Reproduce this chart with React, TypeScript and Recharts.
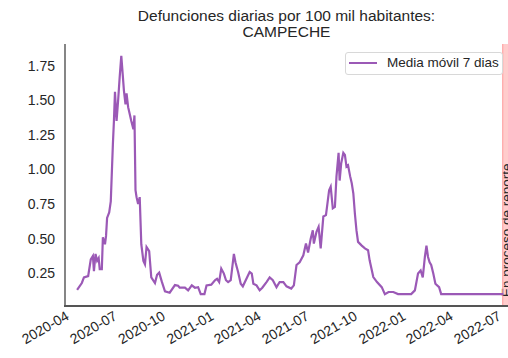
import React from "react";
import {
  LineChart,
  Line,
  XAxis,
  YAxis,
  ReferenceArea,
  ReferenceLine,
} from "recharts";

// 7-day moving average, deaths per 100k, Campeche
const dates = [
  "2020-04-24", "2020-05-03", "2020-05-07", "2020-05-15", "2020-05-20", "2020-05-24",
  "2020-05-26", "2020-05-29", "2020-06-01", "2020-06-04", "2020-06-06", "2020-06-10",
  "2020-06-12", "2020-06-16", "2020-06-18", "2020-06-20", "2020-06-24", "2020-06-27",
  "2020-07-01", "2020-07-03", "2020-07-05", "2020-07-08", "2020-07-11", "2020-07-14",
  "2020-07-17", "2020-07-20", "2020-07-22", "2020-07-25", "2020-07-27", "2020-07-30",
  "2020-08-02", "2020-08-05", "2020-08-09", "2020-08-11", "2020-08-13", "2020-08-15",
  "2020-08-18", "2020-08-21", "2020-08-24", "2020-08-28", "2020-08-31", "2020-09-03",
  "2020-09-08", "2020-09-12", "2020-09-19", "2020-09-23", "2020-09-27", "2020-10-02",
  "2020-10-08", "2020-10-17", "2020-10-27", "2020-11-02", "2020-11-05", "2020-11-15",
  "2020-11-21", "2020-11-28", "2020-12-04", "2020-12-10", "2020-12-15", "2020-12-22",
  "2020-12-26", "2021-01-04", "2021-01-11", "2021-01-15", "2021-01-19", "2021-01-23",
  "2021-01-28", "2021-02-01", "2021-02-05", "2021-02-10", "2021-02-16", "2021-02-19",
  "2021-02-24", "2021-03-01", "2021-03-05", "2021-03-13", "2021-03-18", "2021-03-22",
  "2021-03-25", "2021-03-31", "2021-04-06", "2021-04-11", "2021-04-19", "2021-04-25",
  "2021-05-01", "2021-05-08", "2021-05-14", "2021-05-21", "2021-05-27", "2021-06-05",
  "2021-06-10", "2021-06-15", "2021-06-21", "2021-06-28", "2021-07-03", "2021-07-07",
  "2021-07-12", "2021-07-16", "2021-07-18", "2021-07-23", "2021-07-27", "2021-07-31",
  "2021-08-05", "2021-08-10", "2021-08-12", "2021-08-16", "2021-08-19", "2021-08-23",
  "2021-08-27", "2021-08-30", "2021-09-03", "2021-09-05", "2021-09-08", "2021-09-12",
  "2021-09-15", "2021-09-18", "2021-09-21", "2021-09-25", "2021-09-28", "2021-10-01",
  "2021-10-04", "2021-10-07", "2021-10-10", "2021-10-17", "2021-10-23", "2021-10-29",
  "2021-11-01", "2021-11-08", "2021-11-15", "2021-11-24", "2021-11-30", "2021-12-07",
  "2021-12-16", "2021-12-25", "2022-01-19", "2022-01-26", "2022-02-01", "2022-02-06",
  "2022-02-10", "2022-02-14", "2022-02-17", "2022-02-20", "2022-02-23", "2022-02-26",
  "2022-03-02", "2022-03-06", "2022-03-13", "2022-03-17", "2022-07-13",
];

const movingAvg = [
  0.13, 0.18, 0.22, 0.23, 0.35, 0.375,
  0.265, 0.39, 0.34, 0.36, 0.28, 0.28,
  0.51, 0.46, 0.52, 0.65, 0.69, 0.77,
  1.18, 1.35, 1.56, 1.35, 1.5, 1.67,
  1.82, 1.67, 1.57, 1.47, 1.55, 1.45,
  1.4, 1.35, 1.29, 1.39, 0.85, 0.8,
  0.75, 0.8, 0.46, 0.34, 0.315, 0.44,
  0.41, 0.22, 0.18, 0.24, 0.255, 0.19,
  0.12, 0.11, 0.165, 0.16, 0.146, 0.146,
  0.127, 0.163, 0.146, 0.15, 0.1, 0.1,
  0.163, 0.168, 0.2, 0.21, 0.187, 0.284,
  0.248, 0.2, 0.187, 0.2, 0.39, 0.33,
  0.26, 0.175, 0.156, 0.22, 0.26, 0.248,
  0.175, 0.163, 0.127, 0.146, 0.187, 0.22,
  0.2, 0.15, 0.187, 0.187, 0.156, 0.14,
  0.163, 0.31, 0.33, 0.38, 0.465, 0.4,
  0.5, 0.56, 0.465, 0.55, 0.585, 0.43,
  0.66, 0.67, 0.73, 0.85, 0.875, 0.72,
  0.73, 0.95, 1.12, 0.92, 1.045, 1.12,
  1.105, 1.02, 1.03, 0.95, 0.9, 0.828,
  0.68, 0.56, 0.477, 0.45, 0.43, 0.417,
  0.344, 0.223, 0.187, 0.15, 0.1, 0.115,
  0.115, 0.1, 0.1, 0.127, 0.248, 0.27,
  0.22, 0.368, 0.45, 0.368, 0.33, 0.31,
  0.248, 0.175, 0.15, 0.1, 0.1,
];

const xTickLabels = [
  "2020-04", "2020-07", "2020-10", "2021-01", "2021-04",
  "2021-07", "2021-10", "2022-01", "2022-04", "2022-07",
];
const yTicks = [0.25, 0.5, 0.75, 1.0, 1.25, 1.5, 1.75];

const xMin = Date.UTC(2020, 3, 1);
const xMax = Date.UTC(2022, 6, 22);
const reportStart = Date.UTC(2022, 6, 12);
const yMin = 0.014;
const yMax = 1.906;

const data = dates.map((d, i) => ({ t: Date.parse(d), v: movingAvg[i] }));
const xTicks = xTickLabels.map((s) => Date.parse(s + "-01"));

const FONT = "'Liberation Sans', Arial, sans-serif";
const TEXT = "#262626";
const PURPLE = "#9b59b6";
const SPINE = "#444";

const DateTick = (props: any) => {
  const { x, y, payload } = props;
  const d = new Date(payload.value);
  const label = `${d.getUTCFullYear()}-${String(d.getUTCMonth() + 1).padStart(2, "0")}`;
  const ty = y + 4;
  return (
    <text
      x={x}
      y={ty}
      dy="0.72em"
      textAnchor="end"
      transform={`rotate(-30, ${x}, ${ty})`}
      fill={TEXT}
      fontSize={14}
      fontFamily={FONT}
    >
      {label}
    </text>
  );
};

const bandLabel = (props: any) => {
  const { x, y, height } = props.viewBox;
  const tx = x + 8;
  const ty = y + height - 9;
  return (
    <text
      x={tx}
      y={ty}
      transform={`rotate(-90, ${tx}, ${ty})`}
      fill={TEXT}
      fontSize={13.5}
      fontFamily={FONT}
    >
      En proceso de reporte
    </text>
  );
};

const LegendBox = () => (
  <div
    style={{
      position: "absolute",
      left: 345,
      top: 52,
      width: 156,
      height: 21,
      border: "1px solid #d8d8d8",
      borderRadius: 3,
      background: "#fff",
      fontFamily: FONT,
    }}
  >
    <div
      style={{
        position: "absolute",
        left: 3,
        top: 9,
        width: 28,
        height: 2,
        background: PURPLE,
      }}
    />
    <div
      style={{
        position: "absolute",
        left: 41,
        top: 2,
        fontSize: 13.5,
        lineHeight: "16px",
        color: TEXT,
        whiteSpace: "nowrap",
      }}
    >
      Media móvil 7 dias
    </div>
  </div>
);

export default function App() {
  return (
    <div style={{ position: "absolute", left: 0, top: 0, width: 508, height: 358, background: "#fff" }}>
      <div
        style={{
          position: "absolute",
          left: 65,
          width: 443,
          top: 7.5,
          textAlign: "center",
          fontFamily: FONT,
          fontSize: 15.5,
          lineHeight: "16px",
          color: TEXT,
        }}
      >
        Defunciones diarias por 100 mil habitantes:
        <br />
        CAMPECHE
      </div>
      <LineChart
        width={508}
        height={358}
        data={data}
        margin={{ top: 44, right: 0, left: 0, bottom: 2 }}
      >
        <XAxis
          dataKey="t"
          type="number"
          orientation="bottom"
          domain={[xMin, xMax]}
          ticks={xTicks}
          interval={0}
          allowDataOverflow
          height={50}
          tickSize={0}
          tickMargin={0}
          tickLine={false}
          tick={DateTick}
          axisLine={{ stroke: SPINE, strokeWidth: 1.5 }}
        />
        <YAxis
          type="number"
          domain={[yMin, yMax]}
          ticks={yTicks}
          interval={0}
          allowDataOverflow
          width={65}
          tickSize={0}
          tickMargin={10}
          tickLine={false}
          tickFormatter={(v: number) => v.toFixed(2)}
          tick={{ fill: TEXT, fontSize: 14, fontFamily: FONT }}
          axisLine={{ stroke: SPINE, strokeWidth: 1.3 }}
        />
        <ReferenceArea
          x1={reportStart}
          x2={xMax}
          fill="#ff0000"
          fillOpacity={0.2}
          stroke="none"
          label={bandLabel}
        />
        <ReferenceLine x={reportStart} stroke="#ff9a9a" strokeWidth={1} />
        <Line
          type="linear"
          dataKey="v"
          stroke={PURPLE}
          strokeWidth={2.2}
          dot={false}
          isAnimationActive={false}
        />
      </LineChart>
      {/* bottom spine overlay */}
      <div
        style={{
          position: "absolute",
          left: 64,
          top: 305,
          width: 444,
          height: 2,
          background: "#555",
        }}
      />
      <LegendBox />
    </div>
  );
}
